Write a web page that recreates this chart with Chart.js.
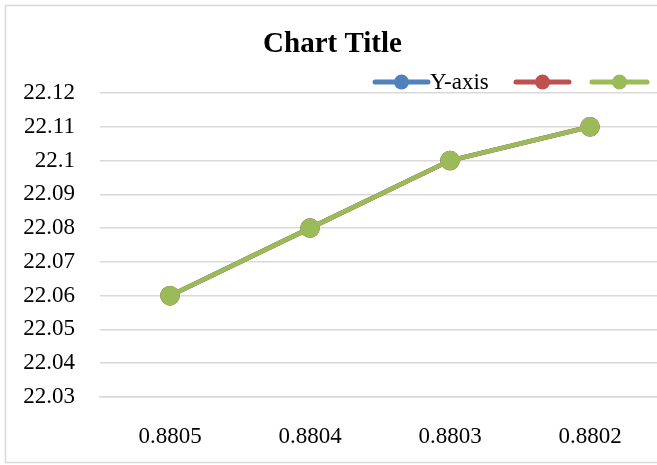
<!DOCTYPE html>
<html>
<head>
<meta charset="utf-8">
<script src="https://cdn.jsdelivr.net/npm/chart.js@4.4.1/dist/chart.umd.min.js"></script>
<style>
html,body{margin:0;padding:0;background:#fff;overflow:hidden;}
#wrap{position:absolute;left:0;top:0;width:672px;height:465px;}
</style>
</head>
<body>
<div id="wrap"><canvas id="c" width="672" height="465"></canvas></div>
<script>
const categories = ["0.8805", "0.8804", "0.8803", "0.8802"];
const seriesLabels = ["Y-axis", "", ""];
const seriesA = [22.06, 22.08, 22.10, 22.11];
const seriesB = [22.06, 22.08, 22.10, 22.11];
const seriesC = [22.06, 22.08, 22.10, 22.11];
const yTicks = [22.03, 22.04, 22.05, 22.06, 22.07, 22.08, 22.09, 22.10, 22.11, 22.12];
const chartTitle = "Chart Title";

const colors = ["#4f81bd", "#c0504d", "#9bbb59"];
const FONT = "'Liberation Serif', 'Times New Roman', serif";

function ds(label, data, color, order) {
  return {
    label: label, data: data, order: order,
    borderColor: color, backgroundColor: color,
    pointBackgroundColor: color, pointBorderColor: color,
    borderWidth: 4.5, pointRadius: 7.5, pointHoverRadius: 7.5,
    tension: 0, fill: false
  };
}

const frame = {
  id: 'frame',
  beforeDraw(chart) {
    const ctx = chart.ctx;
    ctx.save();
    ctx.fillStyle = '#fff';
    ctx.fillRect(0, 0, chart.width, chart.height);
    ctx.strokeStyle = '#d9d9d9';
    ctx.lineWidth = 1.5;
    ctx.strokeRect(5.5, 5.5, 720, 457);
    ctx.restore();
  }
};

// legend item layout: [lineStart, lineEnd]
const legendSlots = [[375, 428], [516, 569], [592, 647]];
const legendPlugin = {
  id: 'customLegend',
  afterDraw(chart) {
    const ctx = chart.ctx;
    ctx.save();
    const y = 82;
    ctx.font = "23px " + FONT;
    ctx.textBaseline = 'alphabetic';
    chart.data.datasets.forEach((d, i) => {
      const [x0, x1] = legendSlots[i];
      ctx.strokeStyle = d.borderColor;
      ctx.fillStyle = d.borderColor;
      ctx.lineWidth = 5;
      ctx.lineCap = 'round';
      ctx.beginPath();
      ctx.moveTo(x0, y);
      ctx.lineTo(x1, y);
      ctx.stroke();
      ctx.beginPath();
      ctx.arc((x0 + x1) / 2, y, 7.5, 0, Math.PI * 2);
      ctx.fill();
      if (d.label) {
        ctx.fillStyle = '#000';
        ctx.fillText(d.label, x1 + 2, 89);
      }
    });
    ctx.restore();
  }
};

new Chart(document.getElementById('c'), {
  type: 'line',
  data: {
    labels: categories,
    datasets: [
      ds(seriesLabels[0], seriesA, colors[0], 3),
      ds(seriesLabels[1], seriesB, colors[1], 2),
      ds(seriesLabels[2], seriesC, colors[2], 1)
    ]
  },
  options: {
    responsive: false,
    animation: false,
    devicePixelRatio: 1,
    layout: { padding: { left: 0, right: 7, top: 0, bottom: 16 } },
    plugins: {
      legend: { display: false },
      tooltip: { enabled: false },
      title: {
        display: true,
        text: chartTitle,
        color: '#000',
        font: { family: FONT, size: 29, weight: 'bold', lineHeight: 1.2 },
        padding: { top: 27.6, bottom: 30.6 }
      }
    },
    scales: {
      x: {
        offset: true,
        afterFit(scale) { scale.height = 52; },
        grid: { display: false, drawTicks: false },
        border: { display: true, color: '#d9d9d9', width: 1.5 },
        ticks: { color: '#000', padding: 26, font: { family: FONT, size: 23, lineHeight: 1.2 }, maxRotation: 0 }
      },
      y: {
        min: yTicks[0],
        max: yTicks[yTicks.length - 1],
        afterBuildTicks(scale) { scale.ticks = yTicks.map(v => ({ value: v })); },
        afterFit(scale) { scale.width = 100; },
        grid: { color: '#d9d9d9', lineWidth: 1.5, drawTicks: false },
        border: { display: false },
        ticks: {
          color: '#000', padding: 25,
          font: { family: FONT, size: 23, lineHeight: 1.2 },
          callback: (v) => String(Number(Number(v).toFixed(2)))
        }
      }
    }
  },
  plugins: [frame, legendPlugin]
});
</script>
</body>
</html>
